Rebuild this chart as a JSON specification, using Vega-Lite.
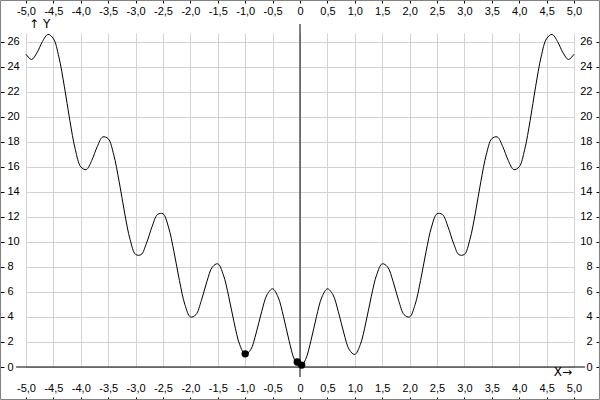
{
  "$schema": "https://vega.github.io/schema/vega-lite/v6.json",
  "width": 548,
  "height": 334,
  "autosize": {"type": "none"},
  "padding": {"left": 26, "top": 33, "right": 26, "bottom": 33},
  "background": "white",
  "config": {
    "view": {"stroke": null},
    "font": "Liberation Sans",
    "axis": {
      "labelFont": "Liberation Sans",
      "labelFontSize": 11,
      "labelColor": "#000000",
      "tickColor": "#000000",
      "domain": false,
      "title": null,
      "gridColor": "#d3d3d3",
      "gridWidth": 1,
      "gridOpacity": 1,
      "labelOverlap": false,
      "labelFlush": false
    }
  },
  "datasets": {
    "curve": [
      {"x": -5, "y": 25}, {"x": -4.9, "y": 24.583}, {"x": -4.8, "y": 25.113}, {"x": -4.7, "y": 26.017}, {"x": -4.6, "y": 26.587},
      {"x": -4.5, "y": 26.25}, {"x": -4.4, "y": 24.787}, {"x": -4.3, "y": 22.417}, {"x": -4.2, "y": 19.713}, {"x": -4.1, "y": 17.383},
      {"x": -4, "y": 16}, {"x": -3.9, "y": 15.783}, {"x": -3.8, "y": 16.513}, {"x": -3.7, "y": 17.617}, {"x": -3.6, "y": 18.387},
      {"x": -3.5, "y": 18.25}, {"x": -3.4, "y": 16.987}, {"x": -3.3, "y": 14.817}, {"x": -3.2, "y": 12.313}, {"x": -3.1, "y": 10.183},
      {"x": -3, "y": 9}, {"x": -2.9, "y": 8.983}, {"x": -2.8, "y": 9.913}, {"x": -2.7, "y": 11.217}, {"x": -2.6, "y": 12.187},
      {"x": -2.5, "y": 12.25}, {"x": -2.4, "y": 11.187}, {"x": -2.3, "y": 9.217}, {"x": -2.2, "y": 6.913}, {"x": -2.1, "y": 4.983},
      {"x": -2, "y": 4}, {"x": -1.9, "y": 4.183}, {"x": -1.8, "y": 5.313}, {"x": -1.7, "y": 6.817}, {"x": -1.6, "y": 7.987},
      {"x": -1.5, "y": 8.25}, {"x": -1.4, "y": 7.387}, {"x": -1.3, "y": 5.617}, {"x": -1.2, "y": 3.513}, {"x": -1.1, "y": 1.783},
      {"x": -1, "y": 1}, {"x": -0.9, "y": 1.383}, {"x": -0.8, "y": 2.713}, {"x": -0.7, "y": 4.417}, {"x": -0.6, "y": 5.787},
      {"x": -0.5, "y": 6.25}, {"x": -0.4, "y": 5.587}, {"x": -0.3, "y": 4.017}, {"x": -0.2, "y": 2.113}, {"x": -0.1, "y": 0.583},
      {"x": 0, "y": 0},
      {"x": 0.1, "y": 0.583}, {"x": 0.2, "y": 2.113}, {"x": 0.3, "y": 4.017}, {"x": 0.4, "y": 5.587}, {"x": 0.5, "y": 6.25},
      {"x": 0.6, "y": 5.787}, {"x": 0.7, "y": 4.417}, {"x": 0.8, "y": 2.713}, {"x": 0.9, "y": 1.383}, {"x": 1, "y": 1},
      {"x": 1.1, "y": 1.783}, {"x": 1.2, "y": 3.513}, {"x": 1.3, "y": 5.617}, {"x": 1.4, "y": 7.387}, {"x": 1.5, "y": 8.25},
      {"x": 1.6, "y": 7.987}, {"x": 1.7, "y": 6.817}, {"x": 1.8, "y": 5.313}, {"x": 1.9, "y": 4.183}, {"x": 2, "y": 4},
      {"x": 2.1, "y": 4.983}, {"x": 2.2, "y": 6.913}, {"x": 2.3, "y": 9.217}, {"x": 2.4, "y": 11.187}, {"x": 2.5, "y": 12.25},
      {"x": 2.6, "y": 12.187}, {"x": 2.7, "y": 11.217}, {"x": 2.8, "y": 9.913}, {"x": 2.9, "y": 8.983}, {"x": 3, "y": 9},
      {"x": 3.1, "y": 10.183}, {"x": 3.2, "y": 12.313}, {"x": 3.3, "y": 14.817}, {"x": 3.4, "y": 16.987}, {"x": 3.5, "y": 18.25},
      {"x": 3.6, "y": 18.387}, {"x": 3.7, "y": 17.617}, {"x": 3.8, "y": 16.513}, {"x": 3.9, "y": 15.783}, {"x": 4, "y": 16},
      {"x": 4.1, "y": 17.383}, {"x": 4.2, "y": 19.713}, {"x": 4.3, "y": 22.417}, {"x": 4.4, "y": 24.787}, {"x": 4.5, "y": 26.25},
      {"x": 4.6, "y": 26.587}, {"x": 4.7, "y": 26.017}, {"x": 4.8, "y": 25.113}, {"x": 4.9, "y": 24.583}, {"x": 5, "y": 25}
    ],
    "pts": [
      {"x": -1, "y": 1.05},
      {"x": -0.05, "y": 0.4},
      {"x": 0.03, "y": 0.15}
    ]
  },
  "resolve": {"axis": {"x": "independent", "y": "independent"}},
  "layer": [
    {
      "data": {"values": [{}]},
      "mark": {"type": "rect", "fill": null, "stroke": "#808080", "strokeWidth": 1},
      "encoding": {
        "x": {"datum": -5.465, "type": "quantitative", "axis": null},
        "x2": {"datum": 5.465},
        "y": {"datum": -2.6, "type": "quantitative", "axis": null},
        "y2": {"datum": 29.3}
      }
    },
    {
      "data": {"name": "curve"},
      "mark": {"type": "line", "color": "#000000", "strokeWidth": 1, "interpolate": "catmull-rom"},
      "encoding": {
        "x": {
          "field": "x", "type": "quantitative",
          "scale": {"domain": [-5, 5], "nice": false, "zero": false},
          "axis": {
            "orient": "bottom", "offset": 30, "tickSize": 3, "labelPadding": -12, "labelBaseline": "middle",
            "grid": true,
            "values": [-5, -4.5, -4, -3.5, -3, -2.5, -2, -1.5, -1, -0.5, 0, 0.5, 1, 1.5, 2, 2.5, 3, 3.5, 4, 4.5, 5],
            "labelExpr": "datum.value == 0 ? '0' : (datum.value < 0 ? '-' : '') + replace(format(abs(datum.value), '.1f'), '.', ',')"
          }
        },
        "y": {
          "field": "y", "type": "quantitative",
          "scale": {"domain": [0, 26.7], "nice": false, "zero": false},
          "axis": {
            "orient": "left", "offset": 22, "tickSize": 4, "labelPadding": -7, "labelAlign": "left", "labelBaseline": "middle",
            "grid": true,
            "values": [0, 2, 4, 6, 8, 10, 12, 14, 16, 18, 20, 22, 24, 26]
          }
        }
      }
    },
    {
      "data": {"values": [{}]},
      "mark": {"type": "rule", "color": "#000000", "strokeWidth": 1},
      "encoding": {
        "x": {"datum": 0, "type": "quantitative", "axis": null},
        "y": {"datum": -0.8, "type": "quantitative", "axis": null},
        "y2": {"datum": 27.42}
      }
    },
    {
      "data": {"values": [{}]},
      "mark": {"type": "rule", "color": "#000000", "strokeWidth": 1},
      "encoding": {
        "y": {"datum": 0, "type": "quantitative", "axis": null},
        "x": {"datum": -5.18, "type": "quantitative", "axis": null},
        "x2": {"datum": 5.2}
      }
    },
    {
      "data": {"name": "pts"},
      "mark": {"type": "point", "filled": true, "color": "#000000", "opacity": 1, "size": 55},
      "encoding": {
        "x": {
          "field": "x", "type": "quantitative",
          "axis": {
            "orient": "top", "offset": 30, "tickSize": 3, "labelPadding": -11, "labelBaseline": "middle",
            "grid": false,
            "values": [-5, -4.5, -4, -3.5, -3, -2.5, -2, -1.5, -1, -0.5, 0, 0.5, 1, 1.5, 2, 2.5, 3, 3.5, 4, 4.5, 5],
            "labelExpr": "datum.value == 0 ? '0' : (datum.value < 0 ? '-' : '') + replace(format(abs(datum.value), '.1f'), '.', ',')"
          }
        },
        "y": {
          "field": "y", "type": "quantitative",
          "axis": {
            "orient": "right", "offset": 22, "tickSize": 4, "labelPadding": -8, "labelAlign": "right", "labelBaseline": "middle",
            "grid": false,
            "values": [0, 2, 4, 6, 8, 10, 12, 14, 16, 18, 20, 22, 24, 26]
          }
        }
      }
    },
    {
      "data": {"values": [{}]},
      "mark": {"type": "text", "text": "↑ Y", "align": "left", "baseline": "middle", "fontSize": 12, "font": "DejaVu Sans", "color": "#000000"},
      "encoding": {
        "x": {"datum": -4.945, "type": "quantitative", "axis": null},
        "y": {"datum": 27.42, "type": "quantitative", "axis": null}
      }
    },
    {
      "data": {"values": [{}]},
      "mark": {"type": "text", "text": "X→", "align": "right", "baseline": "middle", "fontSize": 12, "font": "DejaVu Sans", "color": "#000000"},
      "encoding": {
        "x": {"datum": 4.964, "type": "quantitative", "axis": null},
        "y": {"datum": -0.4, "type": "quantitative", "axis": null}
      }
    }
  ]
}
